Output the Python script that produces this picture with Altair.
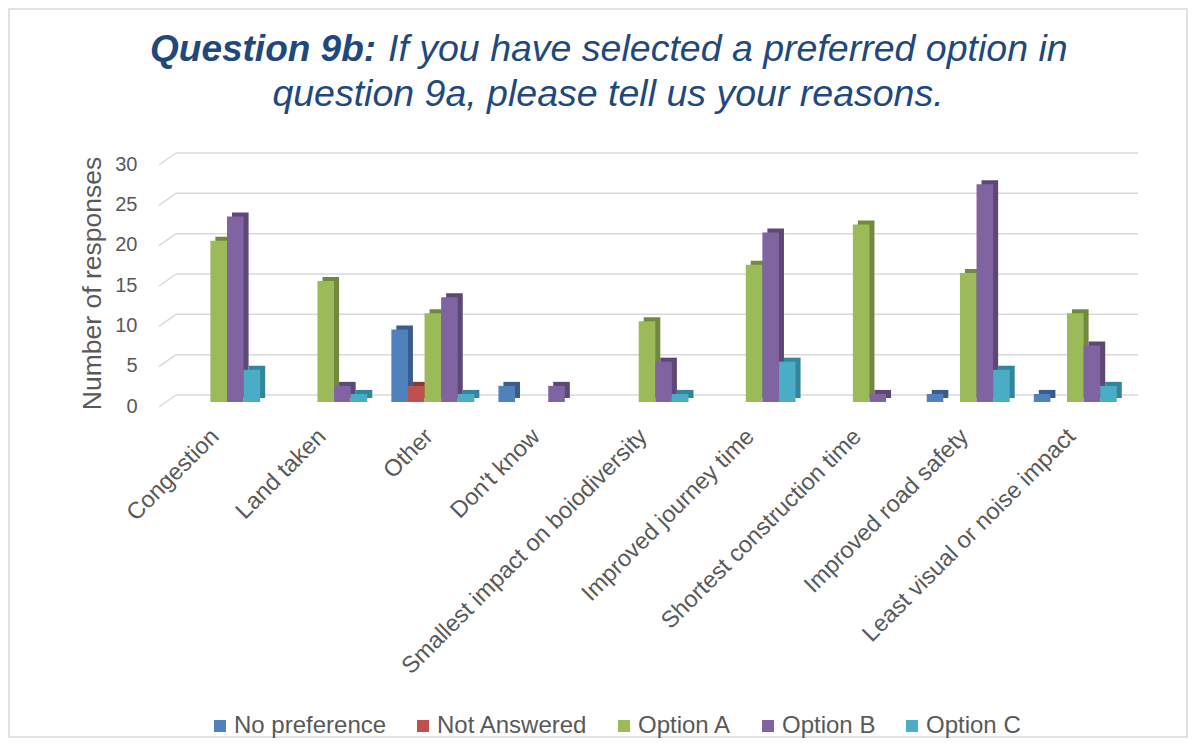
import altair as alt
import pandas as pd

# ---- data ----
categories = [
    "Congestion", "Land taken", "Other", "Don't know",
    "Smallest impact on boiodiversity", "Improved journey time",
    "Shortest construction time", "Improved road safety",
    "Least visual or noise impact",
]
series_names = ["No preference", "Not Answered", "Option A", "Option B", "Option C"]
no_preference = [0, 0, 9, 2, 0, 0, 0, 1, 1]
not_answered = [0, 0, 2, 0, 0, 0, 0, 0, 0]
option_a = [20, 15, 11, 0, 10, 17, 22, 16, 11]
option_b = [23, 2, 13, 2, 5, 21, 1, 27, 7]
option_c = [4, 1, 1, 0, 1, 5, 0, 4, 2]
y_ticks = [0, 5, 10, 15, 20, 25, 30]
title_bold = ["Question 9b:"]
title_rest = ["If you have selected a preferred option in"]
title_line2 = ["question 9a, please tell us your reasons."]
y_title = "Number of responses"

# ---- styles ----
front_colors = ["#4F81BD", "#C0504D", "#9BBB59", "#8064A2", "#4BACC6"]
side_colors = ["#385D8A", "#8C3836", "#71893F", "#5C4776", "#31859C"]
TEXT_GREY = "#595959"
TITLE_BLUE = "#1F497D"
FONT = "Liberation Sans"
W, H = 982, 242
PAD = {"left": 148, "top": 152, "right": 50, "bottom": 336}
PX_PER_UNIT = H / 30.0
P_IN, P_OUT = 0.225, 0.198
STEP = W / (len(categories) - P_IN + 2 * P_OUT)
BAND = STEP * (1 - P_IN)
DEPTH_X, DEPTH_Y = 5, 4

rows = []
for s, vals in zip(series_names, [no_preference, not_answered, option_a, option_b, option_c]):
    for c, v in zip(categories, vals):
        if v > 0:
            rows.append({"category": c, "series": s, "series_side": s + " (side)", "value": v})
df = pd.DataFrame(rows)

grid_df = pd.DataFrame({"t": y_ticks})
grid_df["back"] = grid_df["t"] + 7 / PX_PER_UNIT
grid_df["front"] = grid_df["t"] - 5 / PX_PER_UNIT

x_scale = alt.Scale(domain=categories, paddingInner=P_IN, paddingOuter=P_OUT)
y_scale = alt.Scale(domain=[0, 30], nice=False, zero=True)

x_enc = alt.X(
    "category:N", sort=categories, scale=x_scale,
    axis=alt.Axis(
        title=None, labelAngle=-45, labelAlign="right", labelBaseline="top",
        labelPadding=22, labelOffset=-12, ticks=False, domain=False, grid=False,
        labelFontSize=23.5, labelColor=TEXT_GREY, labelFont=FONT, labelLimit=600,
    ),
)
y_axis = alt.Axis(
    values=y_ticks, grid=False, domain=False, ticks=False,
    labelFontSize=20, labelColor=TEXT_GREY, labelFont=FONT, labelPadding=19, labelOffset=4,
    title=y_title, titleFontSize=26.5, titleFontWeight="normal", titleColor=TEXT_GREY,
    titleFont=FONT, titleX=-64, titleY=H / 2 + 2, titleAngle=-90, titleAlign="center",
    titleBaseline="middle",
)

grid = alt.Chart(grid_df).mark_rule(color="#D9D9D9", strokeWidth=1.5).encode(
    y=alt.Y("back:Q", scale=y_scale, axis=y_axis),
    x=alt.value(20), x2=alt.value(W),
)
stubs = alt.Chart(grid_df).mark_rule(color="#D9D9D9", strokeWidth=1.5).encode(
    y=alt.Y("front:Q", scale=y_scale, axis=y_axis),
    y2="back:Q",
    x=alt.value(3), x2=alt.value(20),
)

side = alt.Chart(df).mark_bar(yOffset=-DEPTH_Y, y2Offset=-DEPTH_Y).encode(
    x=x_enc,
    xOffset=alt.XOffset("series:N", scale=alt.Scale(domain=series_names, range=[DEPTH_X, BAND + DEPTH_X])),
    y=alt.Y("value:Q", scale=y_scale, axis=y_axis),
    color=alt.Color("series_side:N",
                    scale=alt.Scale(domain=[s + " (side)" for s in series_names], range=side_colors),
                    legend=None),
)
front = alt.Chart(df).mark_bar().encode(
    x=x_enc,
    xOffset=alt.XOffset("series:N", scale=alt.Scale(domain=series_names, range=[0, BAND])),
    y=alt.Y("value:Q", scale=y_scale, axis=y_axis),
    color=alt.Color(
        "series:N", scale=alt.Scale(domain=series_names, range=front_colors),
        legend=alt.Legend(
            title=None, orient="none", legendX=52, legendY=554, direction="horizontal",
            symbolType="square", symbolSize=144, symbolStrokeWidth=0, labelFontSize=24,
            labelColor=TEXT_GREY, labelFont=FONT, labelOffset=2, columnPadding=24, padding=0,
        ),
    ),
)

t1 = alt.Chart(pd.DataFrame({"text": title_bold})).mark_text(
    font=FONT, fontSize=37, fontStyle="italic", fontWeight="bold", color=TITLE_BLUE,
    align="left", baseline="alphabetic",
).encode(text="text:N", x=alt.value(-6), y=alt.value(-99))
t2 = alt.Chart(pd.DataFrame({"text": title_rest})).mark_text(
    font=FONT, fontSize=37.5, fontStyle="italic", color=TITLE_BLUE,
    align="left", baseline="alphabetic",
).encode(text="text:N", x=alt.value(232), y=alt.value(-99))
t3 = alt.Chart(pd.DataFrame({"text": title_line2})).mark_text(
    font=FONT, fontSize=37.5, fontStyle="italic", color=TITLE_BLUE,
    align="center", baseline="alphabetic",
).encode(text="text:N", x=alt.value(452), y=alt.value(-54))

border = alt.Chart(pd.DataFrame({"b": [0]})).mark_rect(
    fill=None, stroke="#D9D9D9", strokeWidth=1.5
).encode(
    x=alt.value(-PAD["left"] + 1), x2=alt.value(W + PAD["right"] - 1),
    y=alt.value(-PAD["top"] + 1), y2=alt.value(H + PAD["bottom"] - 1),
)

chart = alt.layer(border, grid, stubs, side, front, t1, t2, t3).resolve_scale(
    color="independent", xOffset="independent"
).properties(
    width=W, height=H,
    autosize=alt.AutoSizeParams(type="none"),
    padding=PAD,
    background="white",
).configure_view(stroke=None)

chart.save("out.html", embed_options={"renderer": "svg", "actions": False})
